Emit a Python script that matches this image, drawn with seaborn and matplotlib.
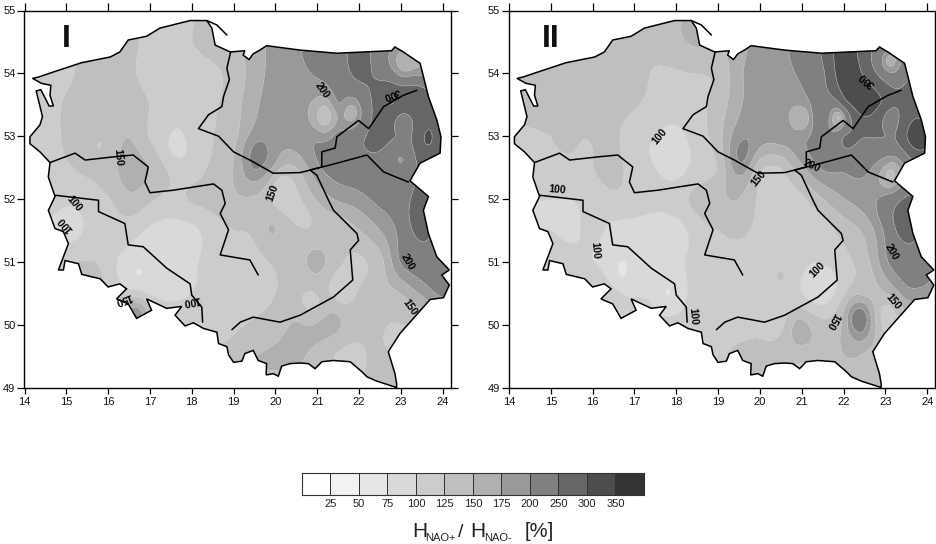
import numpy as np
import matplotlib
matplotlib.use("Agg")
import matplotlib.pyplot as plt
from matplotlib.colors import ListedColormap, BoundaryNorm
from matplotlib.patches import Polygon
import seaborn as sns

sns.set_theme(style="white")
plt.rcParams['font.family'] = ['Liberation Sans', 'DejaVu Sans']

levels = [0, 25, 50, 75, 100, 125, 150, 175, 200, 250, 300, 350, 400]
greys = ['#ffffff', '#f2f2f2', '#e6e6e6', '#d9d9d9', '#cccccc', '#bfbfbf',
         '#b0b0b0', '#999999', '#808080', '#666666', '#4d4d4d', '#333333']
bar_labels = ['25', '50', '75', '100', '125', '150', '175', '200', '250', '300', '350']

grid_lon = [14, 14.5, 15, 15.5, 16, 16.5, 17, 17.5, 18, 18.5, 19, 19.5, 20, 20.5, 21, 21.5, 22, 22.5, 23, 23.5, 24]
grid_lat = [55, 54.5, 54, 53.5, 53, 52.5, 52, 51.5, 51, 50.5, 50, 49.5, 49]

# panel I, one row per latitude
i_550 = [112,112,115,125,135,135,118,112,120,140,150,165,190,195,225,225,270,235,215,190,190]
i_545 = [112,115,120,130,138,135,115,112,125,140,150,160,188,195,225,225,270,225,205,190,190]
i_540 = [112,112,118,135,138,130,115,112,112,118,135,162,185,190,205,225,265,235,185,190,200]
i_535 = [112,112,130,138,138,138,125,112,112,122,140,170,188,190,165,205,200,275,290,280,270]
i_530 = [110,112,130,138,135,150,122,100,110,125,140,185,182,190,195,215,240,270,260,290,270]
i_525 = [112,115,122,130,140,160,150,120,110,130,150,205,170,150,195,215,225,230,230,260,260]
i_520 = [112,110,105,112,122,145,130,118,130,135,145,145,118,120,155,180,190,210,225,265,250]
i_515 = [100,100,95,105,110,112,95,90,92,112,125,130,150,130,130,130,150,175,210,265,230]
i_510 = [120,120,118,125,110,90,85,90,95,112,112,115,128,140,160,135,120,140,205,225,225]
i_505 = [140,145,145,145,130,105,95,90,100,112,115,120,125,130,130,115,130,140,150,180,210]
i_500 = [150,155,160,160,160,200,150,130,122,118,120,128,135,155,155,155,135,130,125,130,135]
i_495 = [150,150,150,150,150,150,140,130,125,125,135,150,155,155,140,120,118,135,120,130,135]
i_490 = [140,140,140,140,140,140,135,130,130,130,135,140,140,140,140,135,130,130,125,130,135]
i_spot_lon = [15.8,17.6,19.56,21.1,21.18,21.85,23.05,23.6,23.0,23.1,23.35,22.75,20.1,15.15,16.7,17.5,19.9,20.7,21.0,21.55,21.4,20.9,21.8,22.75,16.65,23.45,15.5]
i_spot_lat = [52.87,52.85,52.78,53.35,53.32,53.38,53.2,52.95,52.6,54.2,53.65,53.6,52.3,51.55,50.85,50.7,51.55,51.7,51.0,50.55,50.1,50.35,49.55,49.75,50.15,51.75,50.85]
i_spot_val = [122,88,215,140,115,150,200,310,180,145,300,310,115,90,72,75,155,118,162,95,160,110,118,118,215,285,150]

# panel II
ii_550 = [140,140,140,140,140,138,135,135,145,155,155,170,190,195,220,250,330,270,250,220,210]
ii_545 = [140,140,140,140,140,138,135,135,145,155,150,165,185,195,215,260,330,270,250,220,210]
ii_540 = [140,140,140,140,140,140,135,122,122,125,130,170,190,195,205,240,330,290,220,240,240]
ii_535 = [135,140,140,140,138,135,128,118,112,120,135,170,190,190,185,230,280,330,295,270,270]
ii_530 = [115,120,125,138,135,130,110,100,92,115,140,190,190,190,195,215,260,250,255,300,310]
ii_525 = [112,115,115,118,125,135,112,100,85,110,125,190,130,125,170,205,205,210,175,200,260]
ii_520 = [100,100,100,100,108,120,115,110,118,135,145,150,120,112,118,150,175,190,215,260,240]
ii_515 = [100,100,100,95,108,92,90,85,85,112,125,132,118,112,112,112,135,155,205,270,235]
ii_510 = [118,118,118,110,100,85,85,92,95,110,112,112,112,118,110,105,118,140,195,225,215]
ii_505 = [130,130,130,135,130,110,95,92,85,110,112,112,112,112,100,80,120,140,150,190,190]
ii_500 = [135,135,135,135,135,130,125,115,110,112,118,112,118,115,160,135,155,205,118,130,135]
ii_495 = [130,130,130,130,130,130,130,125,120,125,120,135,135,135,135,135,150,145,135,135,135]
ii_490 = [135,135,135,135,135,135,130,125,125,125,125,135,135,135,120,130,135,140,135,135,135]
ii_spot_lon = [19.57,21.04,21.5,21.85,21.9,23.1,23.7,23.1,23.1,23.45,20.5,21.4,20.9,22.3,22.4,23.0,16.66,17.8,20.95,18.95,15.86]
ii_spot_lat = [52.7,53.3,53.35,53.35,53.3,54.2,52.9,53.3,52.4,51.7,50.75,50.6,49.95,49.9,50.05,50.2,50.85,50.5,49.25,49.75,52.88]
ii_spot_val = [215,140,255,160,125,150,320,210,130,290,130,72,165,195,255,110,68,70,115,112,118]

border_lon = [14.61,14.37,14.13,14.13,14.37,14.43,14.28,14.39,14.59,14.69,14.61,14.63,14.41,14.19,14.33,14.73,15.37,16.05,16.28,16.48,16.92,17.24,17.96,18.36,18.48,18.56,18.92,19.27,19.23,19.37,19.47,19.63,19.79,20.59,21.47,22.78,22.86,23.06,23.46,23.54,23.66,23.86,23.96,23.94,23.46,23.22,23.66,23.54,23.66,23.86,24.16,23.98,24.16,24.02,23.70,22.98,22.70,22.86,22.90,22.90,22.43,22.19,22.07,21.79,21.39,21.11,20.95,20.79,20.59,20.35,20.15,20.07,19.95,19.78,19.79,19.59,19.47,19.27,19.20,19.0,18.88,18.84,18.64,18.60,18.28,18.04,17.84,17.60,17.76,17.40,16.92,17.04,16.68,16.48,16.20,16.44,16.28,16.0,15.81,15.37,15.29,14.97,14.93,14.81,15.05,14.93,14.73,14.57,14.73,14.57]
border_lat = [52.58,52.75,52.88,52.99,53.18,53.31,53.72,53.74,53.48,53.48,53.65,53.81,53.84,53.92,53.94,54.03,54.17,54.26,54.34,54.53,54.59,54.72,54.84,54.84,54.72,54.45,54.34,54.36,54.29,54.22,54.31,54.37,54.44,54.37,54.32,54.36,54.42,54.34,54.16,53.95,53.63,53.26,52.99,52.73,52.57,52.29,52.04,51.82,51.45,51.08,50.87,50.79,50.63,50.43,50.40,49.86,49.57,49.22,49.06,49.00,49.10,49.17,49.25,49.41,49.43,49.41,49.30,49.38,49.39,49.38,49.34,49.18,49.22,49.20,49.38,49.43,49.59,49.54,49.42,49.40,49.52,49.65,49.70,49.88,49.94,50.03,49.98,50.15,50.29,50.26,50.41,50.23,50.10,50.33,50.41,50.57,50.65,50.60,50.73,50.80,50.97,51.02,50.87,50.87,51.29,51.48,51.53,51.82,52.04,52.35]

hel_lon = [18.36, 18.6, 18.84]
hel_lat = [54.84, 54.77, 54.61]
vistula_lon = [18.93,18.84,18.90,18.76,18.72,18.40,18.16,18.64,19.0,19.39,19.95,20.59,20.83,20.99,21.27,21.39,21.95,21.99,21.79,21.85,21.39,20.59,20.11,19.47,19.16,18.96]
vistula_lat = [54.34,54.08,53.90,53.63,53.47,53.34,53.12,53.00,52.75,52.62,52.41,52.42,52.46,52.38,51.98,51.82,51.45,51.34,51.19,50.71,50.44,50.15,50.04,50.12,50.04,49.92]
narew_lon = [20.83,21.11,21.11,21.43,21.47,21.99,22.23,22.59,23.06,23.38]
narew_lat = [52.46,52.51,52.75,52.81,52.99,53.25,53.12,53.47,53.65,53.73]
bug_lon = [20.83,21.47,22.19,22.59,23.18]
bug_lat = [52.46,52.57,52.70,52.43,52.27]
warta_lon = [14.61,15.21,15.45,16.12,16.60,16.96,16.88,17.0,17.56,18.52,18.72,18.80,18.68,18.88,18.68,19.39,19.59]
warta_lat = [52.58,52.73,52.62,52.67,52.70,52.51,52.27,52.10,52.14,52.24,52.14,51.93,51.77,51.51,51.11,51.03,50.79]
odra_lon = [14.73,15.77,15.77,16.40,16.48,16.84,17.40,17.96,18.0,18.24,18.26]
odra_lat = [52.06,51.98,51.80,51.61,51.27,51.24,50.90,50.65,50.47,50.28,50.04]

i_text = ['200','300','150','150','100','100','200','150','100','150']
i_text_lon = [21.12,22.77,16.24,19.92,15.18,14.99,23.15,23.22,17.98,16.36]
i_text_lat = [53.73,53.67,52.67,52.09,51.93,51.60,51.00,50.28,50.39,50.41]
i_text_rot = [-55,200,-85,70,-50,130,-60,-55,190,200]
ii_text = ['300','100','150','200','100','100','200','150','150','100','100']
ii_text_lon = [22.56,17.61,19.96,21.25,15.15,16.06,23.16,23.19,21.75,21.37,18.40]
ii_text_lat = [53.89,52.99,52.32,52.52,52.14,51.19,51.15,50.37,50.06,50.87,50.13]
ii_text_rot = [140,50,50,-25,-5,-85,-60,-50,240,45,-85]


def field(rows, spot_lon, spot_lat, spot_val, mlon, mlat):
    glon, glat = np.meshgrid(grid_lon, grid_lat)
    px = np.r_[glon.ravel(), spot_lon]
    py = np.r_[glat.ravel(), spot_lat]
    pv = np.r_[np.array(rows, float).ravel(), spot_val]

    def kern(r2):
        return 0.5 * r2 * np.log(r2 + 1e-9)
    n = len(px)
    A = kern((px[:, None] - px) ** 2 + (py[:, None] - py) ** 2) + np.eye(n) * 0.02
    P = np.c_[np.ones(n), px, py]
    M = np.block([[A, P], [P.T, np.zeros((3, 3))]])
    w = np.linalg.solve(M, np.r_[pv, np.zeros(3)])
    qx, qy = mlon.ravel(), mlat.ravel()
    out = np.zeros(qx.size)
    for s in range(0, qx.size, 5000):
        x, y = qx[s:s + 5000], qy[s:s + 5000]
        out[s:s + 5000] = (kern((x[:, None] - px) ** 2 + (y[:, None] - py) ** 2) @ w[:n]
                           + w[n] + w[n + 1] * x + w[n + 2] * y)
    return out.reshape(mlon.shape)


W, H = 937, 544
fig = plt.figure(figsize=(W / 100, H / 100), dpi=100)
ax1 = fig.add_axes([24.5 / W, 1 - 387.5 / H, 426.5 / W, 377 / H])
ax2 = fig.add_axes([509 / W, 1 - 387.5 / H, 426.5 / W, 377 / H])

mlon, mlat = np.meshgrid(np.linspace(14, 24.2, 300), np.linspace(49, 55, 220))
cmap = ListedColormap(greys)
norm = BoundaryNorm(levels, cmap.N)
panels = [
    (ax1, [i_550,i_545,i_540,i_535,i_530,i_525,i_520,i_515,i_510,i_505,i_500,i_495,i_490],
     i_spot_lon, i_spot_lat, i_spot_val, i_text, i_text_lon, i_text_lat, i_text_rot, 'I', 15.0),
    (ax2, [ii_550,ii_545,ii_540,ii_535,ii_530,ii_525,ii_520,ii_515,ii_510,ii_505,ii_500,ii_495,ii_490],
     ii_spot_lon, ii_spot_lat, ii_spot_val, ii_text, ii_text_lon, ii_text_lat, ii_text_rot, 'II', 15.0),
]
for ax, rows, sx, sy, sv, tx, tlon, tlat, trot, name, nx in panels:
    z = np.clip(field(rows, sx, sy, sv, mlon, mlat), 1, 399)
    outline = Polygon(np.c_[border_lon, border_lat], closed=True, fc='none', ec='black', lw=1.1, zorder=4)
    ax.add_patch(outline)
    cf = ax.contourf(mlon, mlat, z, levels=levels, cmap=cmap, norm=norm, zorder=1)
    cf.set_clip_path(outline)
    cl = ax.contour(mlon, mlat, z, levels=levels, colors='#dedede', linewidths=0.35, zorder=2)
    cl.set_clip_path(outline)
    for rx, ry in [(hel_lon, hel_lat), (vistula_lon, vistula_lat), (narew_lon, narew_lat),
                   (bug_lon, bug_lat), (warta_lon, warta_lat), (odra_lon, odra_lat)]:
        sns.lineplot(x=rx, y=ry, sort=False, estimator=None, color='black', lw=1.1, ax=ax, zorder=3)
    for s, a, b, r in zip(tx, tlon, tlat, trot):
        ax.text(a, b, s, rotation=r, ha='center', va='center', rotation_mode='anchor',
                fontsize=7.5, fontweight='bold', color='black', zorder=6)
    ax.text(nx, 54.55, name, ha='center', va='center', fontsize=23, fontweight='bold', color='#111111', zorder=6)
    ax.set_xlim(14, 24.2)
    ax.set_ylim(49, 55)
    ax.set_xticks(range(14, 25))
    ax.set_yticks(range(49, 56))
    ax.tick_params(axis='both', which='major', direction='out', width=0.9, color='black',
                   labelsize=8, labelcolor='#111111')
    ax.tick_params(axis='y', length=5, pad=1.5)
    ax.tick_params(axis='x', length=4, pad=2.5)
    ax.xaxis.set_ticks_position('both')
    ax.yaxis.set_ticks_position('both')
    for tick in ax.xaxis.get_major_ticks():
        tick.tick2line.set_markersize(8 * 0.72)
    ax.set_xlabel('')
    ax.set_ylabel('')
    for sp in ax.spines.values():
        sp.set_visible(True)
        sp.set_color('black')
        sp.set_linewidth(1.0)
    ax.patch.set_facecolor('white')

# shade bar
cax = fig.add_axes([302 / W, 1 - 495 / H, 342 / W, 22 / H])
sns.heatmap(np.arange(len(greys)).reshape(1, -1), cmap=cmap, cbar=False, linewidths=0.7,
            linecolor='#333333', ax=cax, xticklabels=False, yticklabels=False)
for sp in cax.spines.values():
    sp.set_visible(True)
    sp.set_color('#333333')
    sp.set_linewidth(0.8)
for k, s in enumerate(bar_labels):
    cax.text(k + 1, 1.2, s, ha='center', va='top', fontsize=8, color='#222222')

# caption
fig.text(412 / W, 1 - 537 / H, 'H', fontsize=15, color='#222222', va='baseline')
fig.text(425 / W, 1 - 541 / H, 'NAO+', fontsize=8, color='#222222', va='baseline')
fig.text(458 / W, 1 - 537 / H, '/', fontsize=14, color='#222222', va='baseline')
fig.text(470 / W, 1 - 537 / H, 'H', fontsize=15, color='#222222', va='baseline')
fig.text(484 / W, 1 - 541 / H, 'NAO-', fontsize=8, color='#222222', va='baseline')
fig.text(525 / W, 1 - 537 / H, '[%]', fontsize=14.5, color='#222222', va='baseline')

fig.savefig('out.png', dpi=100, facecolor='white')
